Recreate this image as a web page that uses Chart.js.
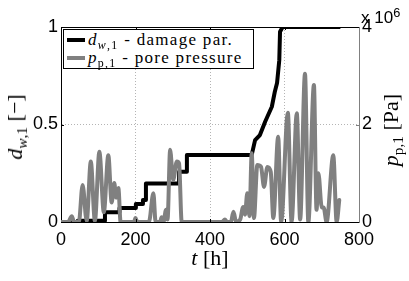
<!DOCTYPE html>
<html><head><meta charset="utf-8">
<script src="https://cdn.jsdelivr.net/npm/chart.js@4/dist/chart.umd.min.js"></script>
<style>
html,body{margin:0;padding:0;background:#fff;}
#wrap{position:relative;width:409px;height:281px;overflow:hidden;background:#fff;}
#c{position:absolute;left:0;top:0;}
.math{font-family:"Liberation Serif",serif;color:#000;position:absolute;white-space:nowrap;line-height:1;}
.math i{font-style:italic;}
.math sub{font-size:0.7em;vertical-align:baseline;position:relative;top:0.3em;}
.rot{transform:translate(-50%,-50%) rotate(-90deg);}
.ctr{transform:translate(-50%,-50%);}
#legend{position:absolute;border:1px solid #000;background:#fff;box-sizing:border-box;padding:0 0 0 3px;}
#legend .row{height:18px;display:flex;align-items:center;font-family:"Liberation Serif",serif;font-size:17px;letter-spacing:1.3px;white-space:nowrap;}
#legend .row i{font-style:italic;}
#legend .row sub{font-size:0.7em;vertical-align:baseline;position:relative;top:0.3em;}
#legend .sw{display:inline-block;width:18px;height:4px;margin-right:3px;flex:none;}
#exp{position:absolute;font-family:"Liberation Sans",sans-serif;font-size:17px;color:#000;white-space:nowrap;line-height:1;}
#exp sup{font-size:0.75em;vertical-align:baseline;position:relative;top:-0.5em;}
</style>
</head><body>
<div id="wrap">
<canvas id="c" width="409" height="281"></canvas>
<div id="legend">
  <div class="row"><span class="sw" style="background:#000"></span><span><i>d</i><sub><i>w</i>,1</sub> - damage par.</span></div>
  <div class="row"><span class="sw" style="background:#808080"></span><span><i>p</i><sub>p,1</sub> - pore pressure</span></div>
</div>
<div id="ylab" class="math rot" style="font-size:22px"><i>d</i><sub><i>w</i>,1</sub> [&minus;]</div>
<div id="y2lab" class="math rot" style="font-size:22px"><i>p</i><sub>p,1</sub> [Pa]</div>
<div id="xlab" class="math ctr" style="font-size:22px"><i>t</i> [h]</div>
<div id="exp">x 10<sup>6</sup></div>
</div>
<script>
// ---- data ----
const damageTime = [0, 45, 45, 118, 118, 157, 157, 201, 201, 220, 220, 228, 228, 317, 317, 338, 338, 512, 521, 534, 548, 566, 574, 580, 586, 588, 595, 750];
const damageValue = [0, 0, 0.007, 0.007, 0.05, 0.05, 0.072, 0.072, 0.092, 0.092, 0.113, 0.113, 0.198, 0.198, 0.258, 0.258, 0.344, 0.344, 0.42, 0.446, 0.514, 0.591, 0.668, 0.713, 0.83, 0.976, 1.0, 1.0];

const poreTime = [0, 19, 29, 35, 48, 58, 69, 80, 91, 103, 115, 127, 136, 143, 148, 154, 160, 196, 200, 205, 236, 248, 254, 266, 270, 275, 282, 286, 293, 301, 311, 317, 324, 432, 440, 446, 456, 463, 470, 481, 489, 494, 500, 506, 512, 518, 527, 537, 545, 554, 563, 570, 583, 591, 609, 619, 633, 642, 655, 664, 679, 686, 691, 700, 705, 713, 731, 740, 747];
// pore pressure in units of 1e6 Pa
const porePressure = [0, 0, 0.12, 0, 0, 0.76, 0.02, 1.24, 0.02, 1.44, 0.2, 1.37, 0.4, 0.8, 0.5, 0.7, 0, 0, 0.08, 0, 0, 0.59, 0, 0, 0.1, 0, 0.25, 0.05, 1.48, 0.86, 1.24, 1.2, 0, 0, 0.05, 0, 0, 0.21, 0, 0.05, 0.31, 0.15, 0.59, 0.12, 1.41, 0.08, 1.17, 1.13, 0.72, 1.13, 1.03, 0.08, 1.75, 0, 2.24, 0, 2.23, 0.05, 3.04, 0, 2.81, 0.25, 1.0, 0.3, 0.3, 0, 1.37, 0, 0.45];

const xTicks = [0, 200, 400, 600, 800];
const yTicks = [0, 0.5, 1];
const y2Ticks = [0, 2, 4];

const tickFont = {family: '"Liberation Sans", Arial, sans-serif', size: 18};

const frame = {
  id: 'frame',
  afterDatasetsDraw(chart) {
    const {ctx, chartArea: a, scales} = chart;
    ctx.save();
    ctx.lineWidth = 1;
    ctx.strokeStyle = '#000';
    ctx.beginPath();
    ctx.moveTo(a.left, a.top + 0.5); ctx.lineTo(a.right, a.top + 0.5);
    ctx.stroke();
    // inward tick marks
    const L = 3;
    ctx.beginPath();
    xTicks.slice(1, -1).forEach(v => {
      const px = Math.round(scales.x.getPixelForValue(v)) + 0.5;
      ctx.moveTo(px, a.bottom); ctx.lineTo(px, a.bottom - L);
      ctx.moveTo(px, a.top); ctx.lineTo(px, a.top + L);
    });
    yTicks.slice(1, -1).forEach(v => {
      const py = Math.round(scales.y.getPixelForValue(v)) + 0.5;
      ctx.moveTo(a.left, py); ctx.lineTo(a.left + L, py);
    });
    ctx.stroke();
    ctx.strokeStyle = '#808080';
    ctx.beginPath();
    y2Ticks.slice(1, -1).forEach(v => {
      const py = Math.round(scales.y2.getPixelForValue(v)) + 0.5;
      ctx.moveTo(a.right, py); ctx.lineTo(a.right - L, py);
    });
    ctx.stroke();
    ctx.restore();
  }
};

const edgeHidden = (vals) => (c) => {
  const v = c.tick ? c.tick.value : null;
  return (v === vals[0] || v === vals[vals.length - 1]) ? 'rgba(0,0,0,0)' : '#b4b4b4';
};

const chart = new Chart(document.getElementById('c'), {
  type: 'line',
  data: {
    datasets: [
      {
        label: 'pore pressure',
        data: poreTime.map((t, i) => ({x: t, y: porePressure[i]})),
        yAxisID: 'y2',
        borderColor: '#808080',
        borderWidth: 4,
        pointRadius: 0,
        cubicInterpolationMode: 'monotone',
        borderJoinStyle: 'round',
        borderCapStyle: 'round',
        order: 0
      },
      {
        label: 'damage par.',
        data: damageTime.map((t, i) => ({x: t, y: damageValue[i]})),
        yAxisID: 'y',
        borderColor: '#000',
        borderWidth: 4,
        pointRadius: 0,
        tension: 0,
        borderJoinStyle: 'round',
        borderCapStyle: 'butt',
        order: 1
      }
    ]
  },
  options: {
    responsive: false,
    animation: false,
    devicePixelRatio: 1,
    layout: {padding: {top: 27, left: 0, right: 0, bottom: 0}},
    plugins: {legend: {display: false}, tooltip: {enabled: false}},
    scales: {
      x: {
        type: 'linear', min: 0, max: 800,
        afterBuildTicks: s => { s.ticks = xTicks.map(v => ({value: v})); },
        afterFit: s => { s.height = 59; },
        ticks: {font: tickFont, color: '#000', padding: 7, maxRotation: 0, autoSkip: false, callback: v => String(v)},
        grid: {drawTicks: false, color: edgeHidden(xTicks), lineWidth: 1},
        border: {display: true, color: '#000', width: 1, dash: [1, 2]}
      },
      y: {
        type: 'linear', position: 'left', min: 0, max: 1,
        afterBuildTicks: s => { s.ticks = yTicks.map(v => ({value: v})); },
        afterFit: s => { s.width = 61; },
        ticks: {font: tickFont, color: '#000', padding: 3, callback: v => String(v)},
        grid: {drawTicks: false, color: edgeHidden(yTicks), lineWidth: 1},
        border: {display: true, color: '#000', width: 1, dash: [1, 2]}
      },
      y2: {
        type: 'linear', position: 'right', min: 0, max: 4,
        afterBuildTicks: s => { s.ticks = y2Ticks.map(v => ({value: v})); },
        afterFit: s => { s.width = 50; },
        ticks: {font: tickFont, color: '#000', padding: 3, callback: v => String(v)},
        grid: {display: false, drawTicks: false},
        border: {display: true, color: '#808080', width: 1}
      }
    }
  },
  plugins: [frame]
});

// place html text overlays relative to the chart area
const a = chart.chartArea;
const lg = document.getElementById('legend');
lg.style.left = (a.left + 2) + 'px';
lg.style.top = (a.top + 2) + 'px';
lg.style.width = '191px';
lg.style.height = '40px';
lg.style.paddingTop = '1px';
const yl = document.getElementById('ylab');
yl.style.left = '15px'; yl.style.top = ((a.top + a.bottom) / 2 + 2) + 'px';
const y2l = document.getElementById('y2lab');
y2l.style.left = '391px'; y2l.style.top = ((a.top + a.bottom) / 2 + 5) + 'px';
const xl = document.getElementById('xlab');
xl.style.left = ((a.left + a.right) / 2) + 'px'; xl.style.top = '258px';
const ex = document.getElementById('exp');
ex.style.left = (a.right + 2) + 'px'; ex.style.top = '9px';
</script>
</body></html>
